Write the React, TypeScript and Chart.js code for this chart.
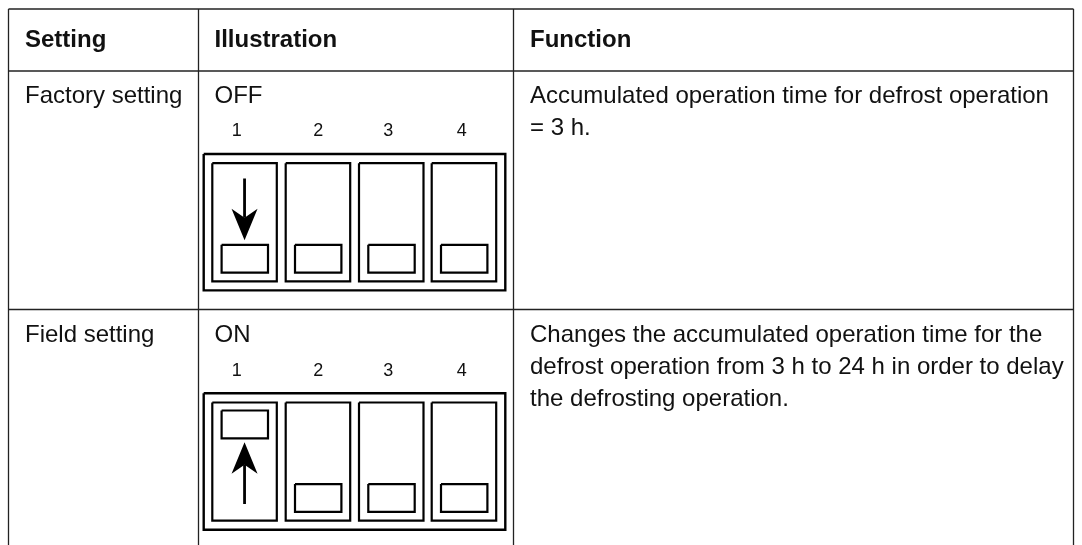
import { useEffect, useRef } from "react";
import { Chart, registerables } from "chart.js";

Chart.register(...registerables);

// ---- content ----
const headers = ["Setting", "Illustration", "Function"];
const settings = ["Factory setting", "Field setting"];
const modes = ["OFF", "ON"];
const switchNumbers = ["1", "2", "3", "4"];
// 1 = slider up, 0 = slider down; one list per row
const factoryPositions = [0, 0, 0, 0];
const fieldPositions = [1, 0, 0, 0];
const factoryFunction = ["Accumulated operation time for defrost operation", "= 3 h."];
const fieldFunction = [
  "Changes the accumulated operation time for the",
  "defrost operation from 3 h to 24 h in order to delay",
  "the defrosting operation.",
];

// ---- layout ----
const W = 1082;
const H = 545;
const LEFT = 8.5, RIGHT = 1073.5, TOP = 9;
const COL = [198.5, 513.5];
const HEADER_RULE = 71;
const ROW_RULE = 309.5;
const BOTTOM = 545;
const TEXT_X = [25, 214.5, 530];
const RULE = "#222222";
const INK = "#000000";

const ROW_TOPS = [154, 393.3];
const OUTER_H = 136.4;
const SW_X = [212.3, 285.7, 359, 431.7];
const SW_W = 64.5;
const NUM_X = [236.7, 318.3, 388.3, 461.7];

type P = { x: number; y: number };
const rect = (x0: number, y0: number, x1: number, y1: number): P[] => [
  { x: x0, y: y0 }, { x: x1, y: y0 }, { x: x1, y: y1 }, { x: x0, y: y1 }, { x: x0, y: y0 },
];
const stroke = (data: P[], borderWidth: number, borderColor = INK) => ({
  data, borderWidth, borderColor, pointRadius: 0, fill: false, tension: 0, showLine: true,
  borderJoinStyle: "miter" as const, borderCapStyle: "butt" as const,
});

function buildDatasets() {
  const ds: any[] = [];
  // table rules
  ds.push(stroke([{ x: LEFT, y: TOP }, { x: RIGHT, y: TOP }], 1.3, RULE));
  ds.push(stroke([{ x: LEFT, y: HEADER_RULE }, { x: RIGHT, y: HEADER_RULE }], 1.3, RULE));
  ds.push(stroke([{ x: LEFT, y: ROW_RULE }, { x: RIGHT, y: ROW_RULE }], 1.3, RULE));
  [LEFT, COL[0], COL[1], RIGHT].forEach((x) =>
    ds.push(stroke([{ x, y: TOP }, { x, y: BOTTOM }], 1.3, RULE)),
  );
  // switch blocks
  [factoryPositions, fieldPositions].forEach((positions, r) => {
    const top = ROW_TOPS[r];
    ds.push(stroke(rect(203.7, top, 505.3, top + OUTER_H), 2.4));
    positions.forEach((up, i) => {
      const x0 = SW_X[i];
      const swTop = top + 9.2;
      const swBot = top + 127.4;
      ds.push(stroke(rect(x0, swTop, x0 + SW_W, swBot), 2.2));
      const sx0 = x0 + 9.3;
      const sx1 = sx0 + 46.4;
      const sy0 = up ? swTop + 8 : swBot - 36.6;
      ds.push(stroke(rect(sx0, sy0, sx1, sy0 + 27.8), 2.2));
      if (i === 0) {
        const cx = x0 + SW_W / 2;
        const dir = up ? -1 : 1; // direction the arrow points
        const tip = up ? sy0 + 27.8 + 4 : sy0 - 4.5;
        const tail = tip - dir * 61.7;
        const wing = tip - dir * 31.5;
        const notch = tip - dir * 22.5;
        ds.push(stroke([{ x: cx, y: tail }, { x: cx, y: notch }], 2.8));
        ds.push({
          data: [
            { x: cx, y: tip }, { x: cx + 13, y: wing }, { x: cx, y: notch },
            { x: cx - 13, y: wing }, { x: cx, y: tip },
          ],
          borderWidth: 0, borderColor: INK, backgroundColor: INK, pointRadius: 0,
          fill: "shape", tension: 0, showLine: true,
        });
      }
    });
  });
  return ds;
}

const textPlugin = {
  id: "tableText",
  afterDatasetsDraw(chart: any) {
    const { ctx, scales } = chart;
    const put = (s: string, x: number, y: number, font: string, align: CanvasTextAlign = "left") => {
      ctx.font = font;
      ctx.textAlign = align;
      ctx.textBaseline = "alphabetic";
      ctx.fillStyle = "#111111";
      ctx.fillText(s, scales.x.getPixelForValue(x), scales.y.getPixelForValue(y));
    };
    const FAMILY = '"Liberation Sans", Arial, sans-serif';
    const body = `24px ${FAMILY}`;
    const bold = `bold 24px ${FAMILY}`;
    const small = `18px ${FAMILY}`;
    headers.forEach((h, i) => put(h, TEXT_X[i], 47, bold));
    settings.forEach((s, i) => put(s, TEXT_X[0], [103, 342][i], body));
    modes.forEach((s, i) => put(s, TEXT_X[1], [103, 342][i], body));
    [135.5, 376].forEach((y) =>
      switchNumbers.forEach((n, i) => put(n, NUM_X[i], y, small, "center")),
    );
    factoryFunction.forEach((s, i) => put(s, TEXT_X[2], 103 + i * 32, body));
    fieldFunction.forEach((s, i) => put(s, TEXT_X[2], 342 + i * 32, body));
  },
};

export default function App() {
  const ref = useRef<HTMLCanvasElement>(null);
  useEffect(() => {
    document.body.style.margin = "0";
    document.body.style.background = "#ffffff";
    const chart = new Chart(ref.current!, {
      type: "scatter",
      data: { datasets: buildDatasets() },
      options: {
        animation: false,
        responsive: false,
        layout: { padding: 0 },
        plugins: { legend: { display: false }, tooltip: { enabled: false }, title: { display: false } },
        scales: {
          x: { type: "linear", min: 0, max: W, display: false },
          y: { type: "linear", min: 0, max: H, reverse: true, display: false },
        },
      },
      plugins: [textPlugin],
    } as any);
    return () => chart.destroy();
  }, []);
  return <canvas ref={ref} width={W} height={H} style={{ display: "block" }} />;
}
